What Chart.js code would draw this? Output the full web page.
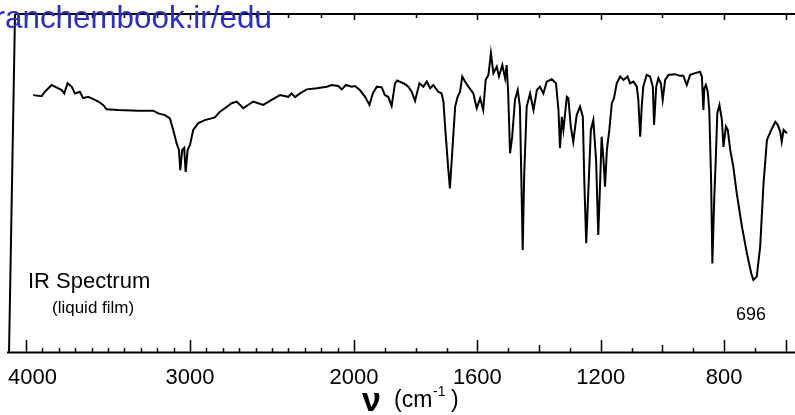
<!DOCTYPE html>
<html>
<head>
<meta charset="utf-8">
<script src="https://cdn.jsdelivr.net/npm/chart.js@4.4.1/dist/chart.umd.min.js"></script>
<style>
html,body{margin:0;padding:0;background:#fff;}
#wrap{width:795px;height:415px;}
</style>
</head>
<body>
<div id="wrap"><canvas id="c" width="795" height="415"></canvas></div>
<script>
// ---- data (wavenumber in cm^-1, transmittance in %) ----
const wavenumber = [
3956,3904,3884,3843,3823,3782,3766,3746,3721,3701,3671,3651,3620,3579,3559,3529,3508,3437,3315,3224,
3193,3152,3122,3102,3081,3067,3059,3047,3035,3026,3014,3000,2980,2949,2909,2848,2817,2787,
2746,2715,2675,2614,2553,2502,2451,2401,2380,2360,2329,2288,2227,2166,2136,2096,2075,2049,2014,1997,
1981,1964,1950,1939,1926,1910,1900,1889,1878,1867,1860,1845,1835,1824,1813,1802,1788,
1775,1764,1753,1743,1727,1716,1710,1703,1694,1689,1681,1672,1664,1656,1649,1640,1629,1613,1602,1591,
1581,1573,1564,1556,1548,1537,1530,1519,1510,1505,1500,1494,1487,1478,1469,1462,1456,1453,1448,1440,
1429,1418,1407,1397,
1386,1375,1359,1345,1337,1332,1326,1321,1316,1310,1305,1297,1289,1278,1267,1258,1253,1247,1240,1232,
1224,1215,1208,1202,1197,1191,1186,1180,1172,1164,1157,1148,1137,1126,1113,1105,1094,1083,1078,1072,
1067,1062,1051,1040,1031,1027,1020,1013,1005,999,991,980,
975,959,943,932,921,910,894,878,872,867,864,859,853,848,842,838,832,827,822,815,
807,802,794,788,780,770,759,742,726,712,705,694,683,672,661,647,634,626,618,613,607,596
];
const transmittance = [
76.0,75.7,77.0,79.0,78.5,77.5,76.5,79.5,78.5,76.5,77.0,75.1,75.5,74.6,74.1,73.1,71.8,71.6,71.4,71.4,
70.6,70.1,69.1,65.7,61.7,59.8,53.8,59.8,60.4,53.3,59.8,61.2,65.7,67.7,68.6,69.4,71.1,72.1,
73.6,74.1,72.1,74.1,73.1,74.6,76.0,75.5,76.5,75.4,76.5,77.7,78.0,78.5,79.0,78.7,77.7,79.0,78.5,78.7,
77.5,75.5,73.1,76.5,78.5,78.3,76.0,75.5,72.8,79.5,80.3,79.7,79.3,78.5,77.0,74.3,79.5,
78.5,80.0,78.0,79.0,77.0,76.5,74.1,64.7,53.8,48.4,59.8,72.6,75.5,77.0,81.5,80.0,78.5,76.5,72.1,75.1,
71.6,80.5,82.0,88.4,82.5,84.4,81.5,84.9,81.0,84.9,76.5,58.8,63.7,74.6,77.5,72.6,45.0,30.2,52.9,72.6,
76.5,71.6,77.5,78.5,
76.5,80.0,80.7,79.5,71.6,60.3,69.6,65.7,70.1,75.5,75.1,66.7,62.2,70.1,72.6,69.6,49.9,32.2,47.9,65.7,
68.6,56.8,34.6,49.9,63.7,56.8,48.9,59.8,65.7,73.6,75.1,79.5,81.5,80.5,81.5,79.5,80.0,78.5,74.6,63.7,
72.6,78.5,82.0,81.5,78.5,67.2,78.5,81.0,79.5,74.6,80.5,82.0,
82.0,82.2,81.7,81.7,79.0,82.0,82.5,82.9,81.5,71.6,78.0,79.0,77.0,71.6,50.9,26.2,45.0,56.8,70.6,73.1,
68.6,60.7,66.7,65.7,59.8,54.8,47.0,37.1,29.2,23.3,21.3,22.3,31.2,49.9,62.7,65.7,68.1,67.2,65.2,62.2,65.7,64.7
];
const tickLabels = [4000, 3000, 2000, 1600, 1200, 800];
const majorTicks = [4000, 3000, 2000, 1600, 1200, 800, 600];
const midTicks = [1400, 1000];
const minorStep = 100;
const topStep = 200;
const xTitle = "ν";
const xUnit = "(cm";
const xUnitSup = "-1";
const xUnitEnd = ")";
const titleText = "IR Spectrum";
const subtitleText = "(liquid film)";
const peakLabel = "696";
const watermarkCut = "r";
const watermark = "anchembook.ir/edu";

// IR chart convention: the 4000-2000 region is drawn at a compressed scale
const highRegionFactor = 0.532;
function axisPos(v){ return v <= 2000 ? v : 2000 + (v - 2000) * highRegionFactor; }

const points = wavenumber.map((v, i) => ({x: axisPos(v), y: transmittance[i]}));

const decor = {
  id: 'decor',
  afterDraw(chart){
    const ctx = chart.ctx;
    const xs = chart.scales.x;
    const px = v => xs.getPixelForValue(axisPos(v));
    const top = chart.chartArea.top, bot = chart.chartArea.bottom;
    ctx.save();
    ctx.strokeStyle = '#000';
    ctx.lineCap = 'butt';
    // frame
    ctx.lineWidth = 2;
    ctx.beginPath();
    ctx.moveTo(15, top); ctx.lineTo(795, top);
    ctx.moveTo(15, top); ctx.lineTo(9, bot + 1);
    ctx.moveTo(7, bot + 0.5); ctx.lineTo(795, bot + 0.5);
    ctx.stroke();
    // bottom ticks
    ctx.lineWidth = 1.5;
    ctx.beginPath();
    for (let v = 4000; v >= 600; v -= minorStep){
      let h = 4;
      if (majorTicks.includes(v)) h = 12;
      else if (midTicks.includes(v)) h = 7;
      const x = Math.round(px(v)) + 0.5;
      ctx.moveTo(x, bot); ctx.lineTo(x, bot - h);
    }
    // top ticks
    for (let v = 4000; v >= 600; v -= topStep){
      let h = 4;
      if (majorTicks.includes(v)) h = 6;
      const x = Math.round(px(v)) + 0.5;
      ctx.moveTo(x, top); ctx.lineTo(x, top + h);
    }
    ctx.stroke();
    // tick labels
    ctx.fillStyle = '#000';
    ctx.font = '22px "Liberation Sans", Arial, sans-serif';
    ctx.textBaseline = 'alphabetic';
    tickLabels.forEach((v, i) => {
      const x = px(v);
      if (i === 0){ ctx.textAlign = 'left'; ctx.fillText(String(v), 8, 384); }
      else { ctx.textAlign = 'center'; ctx.fillText(String(v), x, 384); }
    });
    // axis title
    ctx.textAlign = 'left';
    ctx.font = 'bold 34px "Liberation Sans", Arial, sans-serif';
    ctx.fillText(xTitle, 362, 411);
    ctx.font = '23px "Liberation Sans", Arial, sans-serif';
    ctx.fillText(xUnit, 394, 407);
    ctx.font = '14px "Liberation Sans", Arial, sans-serif';
    ctx.fillText(xUnitSup, 433, 396);
    ctx.font = '23px "Liberation Sans", Arial, sans-serif';
    ctx.fillText(xUnitEnd, 451, 407);
    // annotations
    ctx.font = '22px "Liberation Sans", Arial, sans-serif';
    ctx.fillText(titleText, 28, 288);
    ctx.font = '17px "Liberation Sans", Arial, sans-serif';
    ctx.fillText(subtitleText, 52, 313);
    ctx.font = '18px "Liberation Sans", Arial, sans-serif';
    ctx.textAlign = 'center';
    ctx.fillText(peakLabel, 751, 320);
    // watermark: fit "anchembook.ir/edu" between x=5 and x=272, partial "r" before it
    ctx.font = '100px "Liberation Sans", Arial, sans-serif';
    const size = 100 * 267 / ctx.measureText(watermark).width;
    ctx.font = size.toFixed(2) + 'px "Liberation Sans", Arial, sans-serif';
    const rW = ctx.measureText(watermarkCut).width;
    ctx.fillStyle = '#2e2ebf';
    ctx.textAlign = 'left';
    ctx.fillText(watermarkCut + watermark, 5 - rW, 28);
    ctx.restore();
  }
};

new Chart(document.getElementById('c'), {
  type: 'line',
  data: {
    datasets: [{
      data: points,
      borderColor: '#000',
      borderWidth: 2,
      pointRadius: 0,
      tension: 0,
      fill: false
    }]
  },
  options: {
    responsive: false,
    animation: false,
    layout: {padding: {left: 12, right: 0, top: 14, bottom: 63}},
    plugins: {legend: {display: false}, tooltip: {enabled: false}},
    scales: {
      x: {type: 'linear', reverse: true, min: 570, max: 3109, display: false},
      y: {min: 0, max: 100, display: false}
    }
  },
  plugins: [decor]
});
</script>
</body>
</html>
